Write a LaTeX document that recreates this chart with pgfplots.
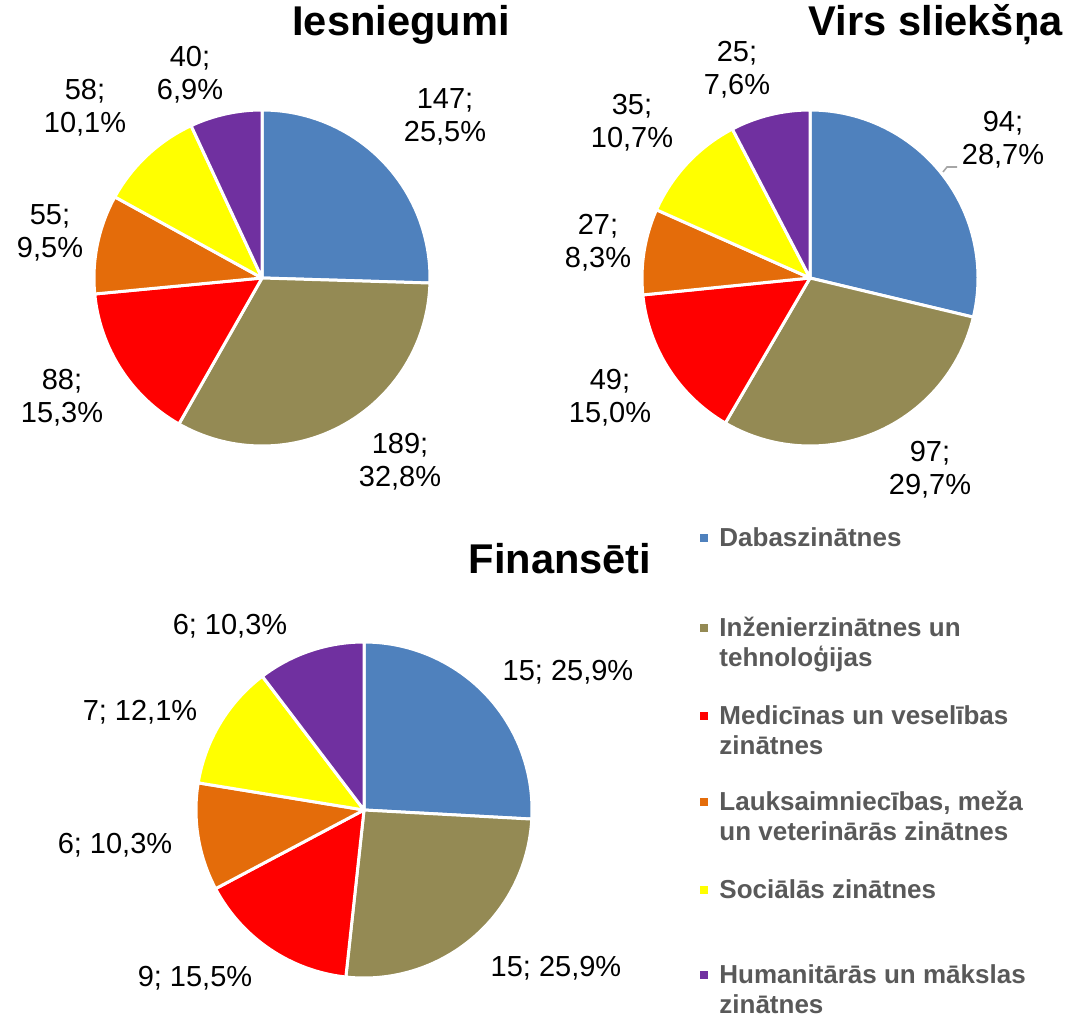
\documentclass[border=0pt]{standalone}
\usepackage{pgfplots}
\pgfplotsset{compat=1.18}
\usepackage{fontspec}
\setmainfont{Liberation Sans}
\definecolor{cdab}{HTML}{4F81BD}
\definecolor{cinz}{HTML}{948A54}
\definecolor{cmed}{HTML}{FF0000}
\definecolor{clau}{HTML}{E46C0A}
\definecolor{csoc}{HTML}{FFFF00}
\definecolor{chum}{HTML}{7030A0}
\definecolor{legtext}{HTML}{595959}
\definecolor{leader}{HTML}{A6A6A6}

% #1 cx, #2 cy (axis units), #3 radius (canvas), #4 list value/colour
\newcommand{\pie}[4]{%
  \gdef\pietot{0}%
  \foreach \v/\c in {#4}{\pgfmathsetmacro\t{\pietot+\v}\xdef\pietot{\t}}%
  \gdef\piecum{0}%
  \foreach \v/\c in {#4}{%
    \pgfmathsetmacro\a{90-(\piecum/\pietot)*360}%
    \pgfmathsetmacro\b{90-((\piecum+\v)/\pietot)*360}%
    \edef\next{\noexpand\filldraw[fill=\c,draw=white,line width=1.5pt,line join=round]
      (axis cs:#1,#2) -- ++(\a:#3) arc[start angle=\a,end angle=\b,radius=#3] -- cycle;}%
    \next
    \pgfmathsetmacro\t{\piecum+\v}\xdef\piecum{\t}%
  }%
}

\begin{document}
\begin{tikzpicture}[
  lbl/.style={font=\fontsize{14.5}{16.5}\selectfont, align=center, inner sep=0pt, text=black},
  ttl/.style={font=\fontsize{20.8}{24}\bfseries\selectfont, inner sep=0pt, text=black},
  leg/.style={font=\fontsize{13}{15}\bfseries\selectfont, inner sep=0pt, text=legtext, anchor=base west},
]
\begin{axis}[
  hide axis, scale only axis,
  x=0.5pt, y=0.5pt,
  xmin=0, xmax=1065, ymin=0, ymax=1019,
  clip=false,
]
\path (axis cs:0,0) rectangle (axis cs:1065,1019);

% Iesniegumi
\pie{262}{741}{84pt}{147/cdab,189/cinz,88/cmed,55/clau,58/csoc,40/chum}
% Virs sliekšņa
\pie{810}{741}{84pt}{94/cdab,97/cinz,49/cmed,27/clau,35/csoc,25/chum}
% Finansēti
\pie{364}{209}{84pt}{15/cdab,15/cinz,9/cmed,6/clau,7/csoc,6/chum}

% titles
\node[ttl, anchor=base] at (axis cs:401,983) {Iesniegumi};
\node[ttl, anchor=base east] at (axis cs:1063,983) {Virs sliekšņa};
\node[ttl, anchor=base] at (axis cs:560,446) {Finansēti};

% labels pie 1
\node[lbl] at (axis cs:445,902) {147;\\25,5\%};
\node[lbl] at (axis cs:400,557) {189;\\32,8\%};
\node[lbl] at (axis cs:62,621) {88;\\15,3\%};
\node[lbl] at (axis cs:50,786) {55;\\9,5\%};
\node[lbl] at (axis cs:85,911) {58;\\10,1\%};
\node[lbl] at (axis cs:190,944) {40;\\6,9\%};

% labels pie 2
\node[lbl] at (axis cs:1003,879) {94;\\28,7\%};
\draw[leader, line width=0.8pt] (axis cs:943,847) -- (axis cs:947,852) -- (axis cs:957,852);
\node[lbl] at (axis cs:930,549) {97;\\29,7\%};
\node[lbl] at (axis cs:610,621) {49;\\15,0\%};
\node[lbl] at (axis cs:598,776) {27;\\8,3\%};
\node[lbl] at (axis cs:632,896) {35;\\10,7\%};
\node[lbl] at (axis cs:737,949) {25;\\7,6\%};

% labels pie 3
\node[lbl] at (axis cs:568,347) {15; 25,9\%};
\node[lbl] at (axis cs:556,51) {15; 25,9\%};
\node[lbl] at (axis cs:195,41) {9; 15,5\%};
\node[lbl] at (axis cs:115,174) {6; 10,3\%};
\node[lbl] at (axis cs:140,307) {7; 12,1\%};
\node[lbl] at (axis cs:230,393) {6; 10,3\%};

% legend
\fill[cdab] (axis cs:700,477) rectangle (axis cs:708,485);
\node[leg] at (axis cs:719,473) {Dabaszinātnes};
\fill[cinz] (axis cs:700,387) rectangle (axis cs:708,395);
\node[leg] at (axis cs:719,383) {Inženierzinātnes un};
\node[leg] at (axis cs:719,353) {tehnoloģijas};
\fill[cmed] (axis cs:700,299) rectangle (axis cs:708,307);
\node[leg] at (axis cs:719,295) {Medicīnas un veselības};
\node[leg] at (axis cs:719,265) {zinātnes};
\fill[clau] (axis cs:700,213) rectangle (axis cs:708,221);
\node[leg] at (axis cs:719,209) {Lauksaimniecības, meža};
\node[leg] at (axis cs:719,179) {un veterinārās zinātnes};
\fill[csoc] (axis cs:700,125) rectangle (axis cs:708,133);
\node[leg] at (axis cs:719,121) {Sociālās zinātnes};
\fill[chum] (axis cs:700,40) rectangle (axis cs:708,48);
\node[leg] at (axis cs:719,36) {Humanitārās un mākslas};
\node[leg] at (axis cs:719,6) {zinātnes};
\end{axis}
\end{tikzpicture}
\end{document}
